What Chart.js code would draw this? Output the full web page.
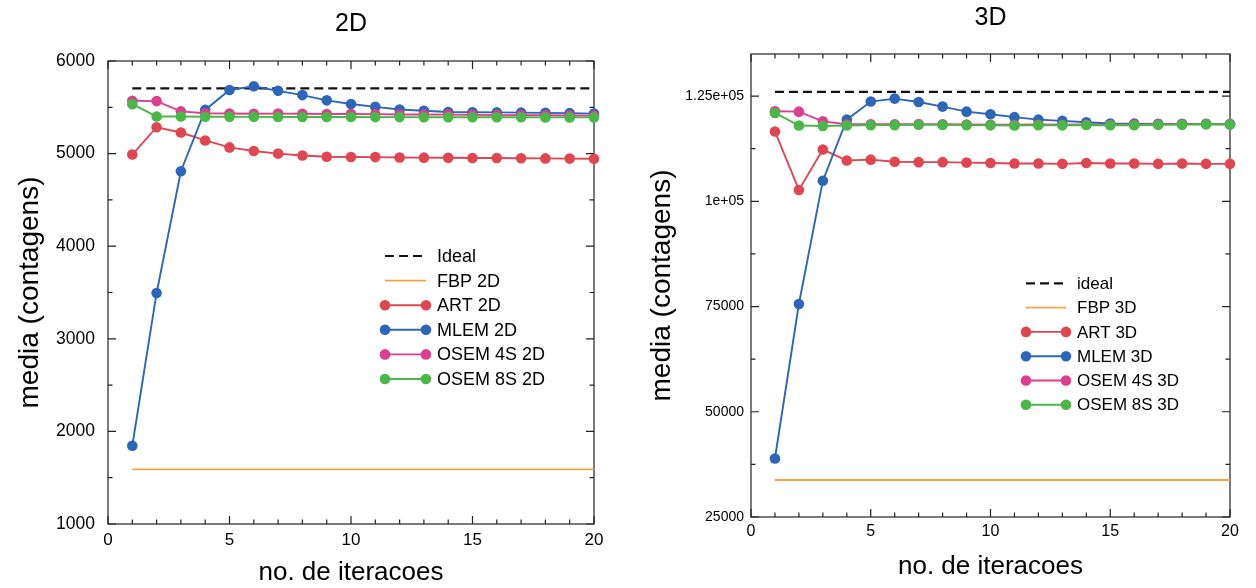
<!DOCTYPE html>
<html>
<head>
<meta charset="utf-8">
<script src="https://cdn.jsdelivr.net/npm/chart.js@4.4.1/dist/chart.umd.min.js"></script>
<style>
  body { margin: 0; background: #fff; }
  .box { position: absolute; top: 0; width: 628px; height: 588px; }
</style>
</head>
<body>
<div class="box" style="left:0"><canvas id="chart2d" width="628" height="588"></canvas></div>
<div class="box" style="left:628px"><canvas id="chart3d" width="628" height="588"></canvas></div>
<script>
// iteracoes
const iterations = [1, 2, 3, 4, 5, 6, 7, 8, 9, 10, 11, 12, 13, 14, 15, 16, 17, 18, 19, 20];
const refIters = [1, 20];
const xMajor = [0, 5, 10, 15, 20];

// 2D
const names2D = ["Ideal", "FBP 2D", "ART 2D", "MLEM 2D", "OSEM 4S 2D", "OSEM 8S 2D"];
const ideal2D = [5705, 5705];
const fbp2D = [1590, 1590];
const art2D = [4990, 5285, 5228, 5142, 5067, 5028, 5000, 4980, 4966, 4964, 4962, 4958, 4956, 4955, 4953, 4952, 4950, 4948, 4946, 4944];
const mlem2D = [1845, 3495, 4810, 5472, 5687, 5727, 5678, 5632, 5575, 5536, 5505, 5477, 5463, 5450, 5447, 5445, 5442, 5440, 5437, 5432];
const osem4S2D = [5570, 5567, 5456, 5435, 5433, 5431, 5432, 5430, 5428, 5427, 5426, 5423, 5422, 5421, 5418, 5416, 5415, 5414, 5411, 5410];
const osem8S2D = [5534, 5401, 5400, 5398, 5398, 5397, 5396, 5396, 5395, 5395, 5394, 5394, 5393, 5393, 5392, 5392, 5392, 5391, 5391, 5391];
const yTicks2D = [1000, 1500, 2000, 2500, 3000, 3500, 4000, 4500, 5000, 5500, 6000];
const yLabels2D = ["1000", "", "2000", "", "3000", "", "4000", "", "5000", "", "6000"];

// 3D
const names3D = ["ideal", "FBP 3D", "ART 3D", "MLEM 3D", "OSEM 4S 3D", "OSEM 8S 3D"];
const ideal3D = [126000, 126000];
const fbp3D = [33800, 33800];
const art3D = [116600, 102700, 112300, 109700, 109900, 109400, 109300, 109300, 109200, 109100, 109000, 109000, 108900, 109100, 109000, 109000, 108900, 109000, 108900, 108900];
const mlem3D = [38900, 75600, 104900, 119400, 123700, 124400, 123600, 122500, 121300, 120700, 120000, 119400, 119100, 118800, 118500, 118450, 118400, 118400, 118400, 118350];
const osem4S3D = [121400, 121300, 119000, 118300, 118300, 118300, 118350, 118300, 118250, 118200, 118200, 118250, 118200, 118250, 118200, 118250, 118300, 118300, 118350, 118300];
const osem8S3D = [121000, 118000, 117900, 118000, 118100, 118100, 118200, 118150, 118100, 118050, 118000, 118100, 118050, 118130, 118070, 118090, 118190, 118210, 118310, 118250];
const yTicks3D = [25000, 37500, 50000, 62500, 75000, 87500, 100000, 112500, 125000];
const yLabels3D = ["25000", "", "50000", "", "75000", "", "1e+05", "", "1.25e+05"];

const FONT = "'Liberation Sans', Arial, sans-serif";
const colors = ["#111111", "#f5a443", "#e0464f", "#2b66b8", "#dc3f8d", "#4bb748"];

function pts(xs, ys) {
    return xs.map((x, i) => ({ x: x, y: ys[i] }));
}

function makeSets(names, series) {
    return series.map((s, i) => ({
        label: names[i],
        data: pts(i < 2 ? refIters : iterations, s),
        borderColor: colors[i],
        backgroundColor: colors[i],
        borderWidth: i == 0 ? 2.2 : 1.9,
        borderDash: i == 0 ? [9, 5] : [],
        pointRadius: i < 2 ? 0 : 5.3,
        pointHoverRadius: i < 2 ? 0 : 5.3,
        pointBorderWidth: 0,
        order: 6 - i,
        clip: false
    }));
}

// box with inward ticks on all four sides
const framePlugin = {
    id: "frame",
    beforeDatasetsDraw(chart) {
        const ctx = chart.ctx;
        const a = chart.chartArea;
        ctx.save();
        ctx.strokeStyle = "#222";
        ctx.lineWidth = 1.2;
        ctx.strokeRect(a.left, a.top, a.right - a.left, a.bottom - a.top);
        ctx.beginPath();
        const xs = chart.scales.x, ys = chart.scales.y;
        xs.ticks.forEach(t => {
            const p = xs.getPixelForValue(t.value);
            const len = t.label !== "" ? 8 : 4.5;
            ctx.moveTo(p, a.bottom); ctx.lineTo(p, a.bottom - len);
            ctx.moveTo(p, a.top); ctx.lineTo(p, a.top + len);
        });
        ys.ticks.forEach(t => {
            const p = ys.getPixelForValue(t.value);
            const len = t.label !== "" ? 8 : 4.5;
            ctx.moveTo(a.left, p); ctx.lineTo(a.left + len, p);
            ctx.moveTo(a.right, p); ctx.lineTo(a.right - len, p);
        });
        ctx.stroke();
        ctx.restore();
    }
};

const legendPlugin = {
    id: "boxLegend",
    afterDraw(chart, args, o) {
        const ctx = chart.ctx;
        ctx.save();
        ctx.font = o.size + "px " + FONT;
        ctx.textBaseline = "middle";
        chart.data.datasets.forEach((ds, i) => {
            const y = o.top + i * o.gap;
            ctx.strokeStyle = ds.borderColor;
            ctx.lineWidth = ds.borderWidth;
            ctx.setLineDash(ds.borderDash);
            ctx.beginPath();
            ctx.moveTo(o.lineStart, y);
            ctx.lineTo(o.lineEnd, y);
            ctx.stroke();
            ctx.setLineDash([]);
            if (ds.pointRadius > 0) {
                ctx.fillStyle = ds.backgroundColor;
                [o.lineStart, o.lineEnd].forEach(x => {
                    ctx.beginPath();
                    ctx.arc(x, y, ds.pointRadius, 0, Math.PI * 2);
                    ctx.fill();
                });
            }
            ctx.fillStyle = "#000";
            ctx.textAlign = "left";
            ctx.fillText(ds.label, o.textX, y + 1);
        });
        ctx.restore();
    }
};

function makeChart(id, sets, t) {
    return new Chart(document.getElementById(id), {
        type: "line",
        data: { datasets: sets },
        options: {
            responsive: false,
            animation: false,
            layout: { padding: { left: 0, right: t.padRight, top: 0, bottom: 0 } },
            plugins: {
                legend: { display: false },
                tooltip: { enabled: false },
                title: {
                    display: true, text: t.title, fullSize: false, color: "#000",
                    font: { size: 25, family: FONT, weight: "normal" },
                    padding: { top: t.titleTop, bottom: t.titleBottom }
                },
                boxLegend: t.legend
            },
            scales: {
                x: {
                    type: "linear", min: 0, max: 20,
                    grid: { display: false, drawTicks: false },
                    border: { display: false },
                    ticks: {
                        autoSkip: false, maxRotation: 0, padding: t.xTickPad,
                        color: "#000", font: { size: t.xTickSize, family: FONT },
                        callback: v => xMajor.includes(v) ? String(v) : ""
                    },
                    afterBuildTicks: s => { s.ticks = [0].concat(iterations).map(v => ({ value: v })); },
                    title: {
                        display: true, text: "no. de iteracoes", color: "#000",
                        font: { size: 26, family: FONT }, padding: { top: 0, bottom: t.xTitlePad }
                    },
                    afterFit: s => { s.height = t.xHeight; }
                },
                y: {
                    type: "linear", min: t.yMin, max: t.yMax,
                    grid: { display: false, drawTicks: false },
                    border: { display: false },
                    ticks: {
                        autoSkip: false, padding: t.yTickPad,
                        color: "#000", font: { size: t.yTickSize, family: FONT },
                        callback: (v, i) => t.yLabels[i]
                    },
                    afterBuildTicks: s => { s.ticks = t.yTicks.map(v => ({ value: v })); },
                    title: {
                        display: true, text: "media (contagens)", color: "#000",
                        font: { size: 28, family: FONT }, padding: { top: t.yTitlePad, bottom: 0 }
                    },
                    afterFit: s => { s.width = t.yWidth; }
                }
            }
        },
        plugins: [framePlugin, legendPlugin]
    });
}

const chart2d = makeChart("chart2d",
    makeSets(names2D, [ideal2D, fbp2D, art2D, mlem2D, osem4S2D, osem8S2D]), {
    title: "2D", titleTop: 9, titleBottom: 22,
    padRight: 34, yWidth: 108, xHeight: 64,
    xTickPad: 6, xTickSize: 17, xTitlePad: 0,
    yMin: 1000, yMax: 6000, yTicks: yTicks2D, yLabels: yLabels2D,
    yTickPad: 13, yTickSize: 17.5, yTitlePad: 13,
    legend: { lineStart: 385, lineEnd: 426, textX: 437, top: 256, gap: 24.6, size: 18 }
});

const chart3d = makeChart("chart3d",
    makeSets(names3D, [ideal3D, fbp3D, art3D, mlem3D, osem4S3D, osem8S3D]), {
    title: "3D", titleTop: 3, titleBottom: 21,
    padRight: 26, yWidth: 123, xHeight: 71,
    xTickPad: 5, xTickSize: 16, xTitlePad: 6,
    yMin: 25000, yMax: 135000, yTicks: yTicks3D, yLabels: yLabels3D,
    yTickPad: 7, yTickSize: 14, yTitlePad: 17,
    legend: { lineStart: 398, lineEnd: 438, textX: 449, top: 283.3, gap: 24.3, size: 17 }
});
</script>
</body>
</html>
